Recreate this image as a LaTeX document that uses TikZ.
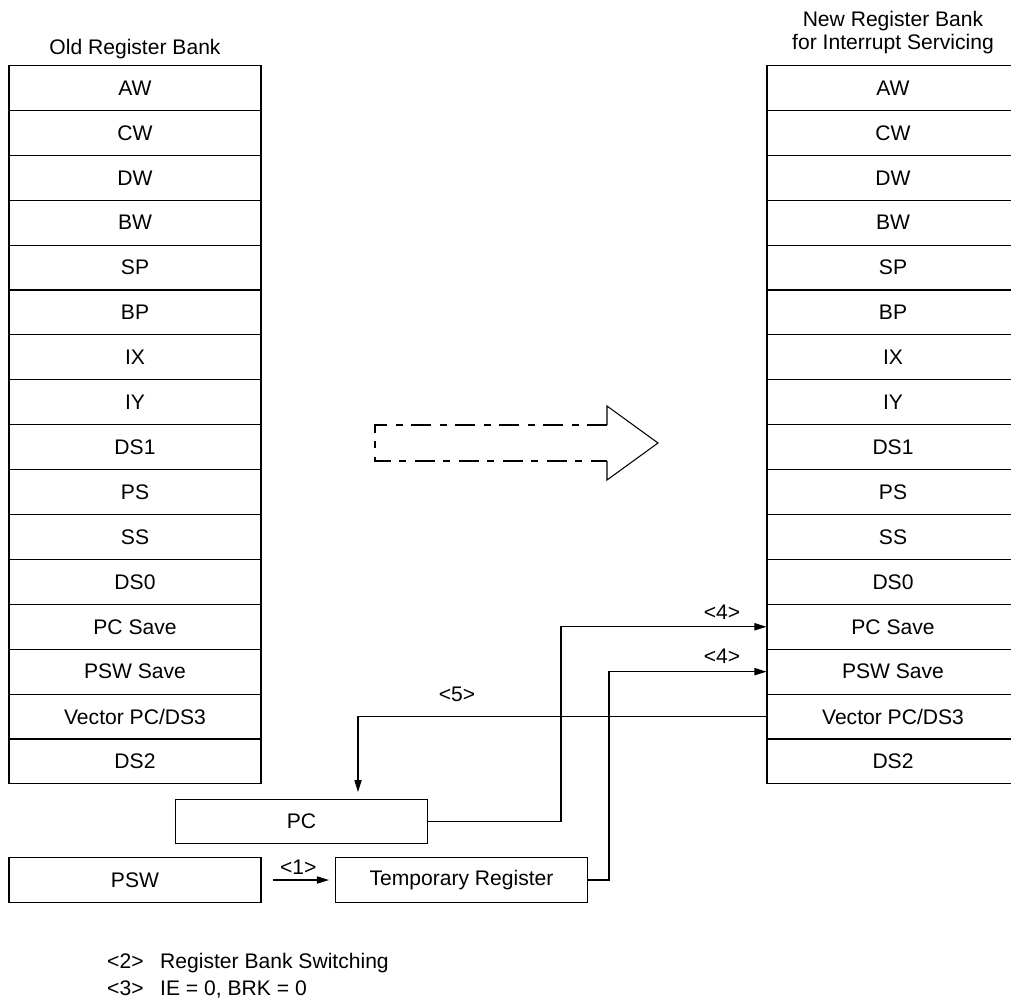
\documentclass[tikz,border=0pt]{standalone}
\usepackage{fontspec}
\setmainfont{Liberation Sans}
\usetikzlibrary{positioning,calc,arrows.meta}

\begin{document}
\begin{tikzpicture}[x=0.25mm, y=-0.25mm, line width=0.75pt, font=\fontsize{15}{18}\selectfont,
	reg/.style={draw, minimum width=63mm, minimum height=11.225mm, inner sep=0pt},
	tip/.style={-{Triangle[length=3mm,width=1.8mm]}}]
						\useasboundingbox (0,0) rectangle (1011,1000);
						% both banks
						\foreach \r [count=\i] in {AW,CW,DW,BW,SP,BP,IX,IY,DS1,PS,SS,DS0,PC Save,PSW Save,Vector PC/DS3,DS2} {
							\node[reg] (old\i) at (135, 43.05+44.9*\i) {\r};
							\node[reg] (new\i) at (893, 43.05+44.9*\i) {\r};
						}
						\node[anchor=base] (oldtitle) at (135,54) {Old Register Bank};
						\node[anchor=south, inner sep=0pt, align=center, font=\fontsize{15}{16.4}\selectfont] (newtitle) at (893,54.5) {New Register Bank\\for Interrupt Servicing};

						\node[reg] (pc) at (301.5,821.5) {PC};
						\node[reg] (psw) at (135,880) {PSW};
						\node[reg] (tmp) at (461.5,880) {Temporary Register};

						% switching arrow
						\draw[dash pattern=on 5mm off 2mm on 1.75mm off 2.25mm] (607,425) -- (375,425) -- (375,461) -- (607,461);
						\draw (607,461) -- (607,480) -- (658,443) -- (607,406) -- (607,425);

						\coordinate (pcbend) at (561,0);
						\coordinate (tmpbend) at (609,0);
						\coordinate (pcin) at (358,799);
						\draw[tip] (pc.east) -- (pc.east -| pcbend) |- (new13.west);
						\draw[tip] (tmp.east) -- (tmp.east -| tmpbend) |- (new14.west);
						\draw[tip, shorten >=1.75mm] (new15.west) -| (pcin);
						\draw[tip, shorten <=2.75mm, shorten >=1.5mm] (psw) -- (tmp) node[midway, above] (lbl1) {<1>};
						\node (lbl4a) at (722,612) {<4>};
						\node (lbl4b) at (722,656) {<4>};
						\node (lbl5) at (457,694) {<5>};

						\node[anchor=base west] (note2) at (102,968) {\makebox[13.25mm][l]{<2>}Register Bank Switching};
						\node[anchor=base west] (note3) at (102,995) {\makebox[13.25mm][l]{<3>}IE = 0, BRK = 0};
					\end{tikzpicture}
\end{document}
